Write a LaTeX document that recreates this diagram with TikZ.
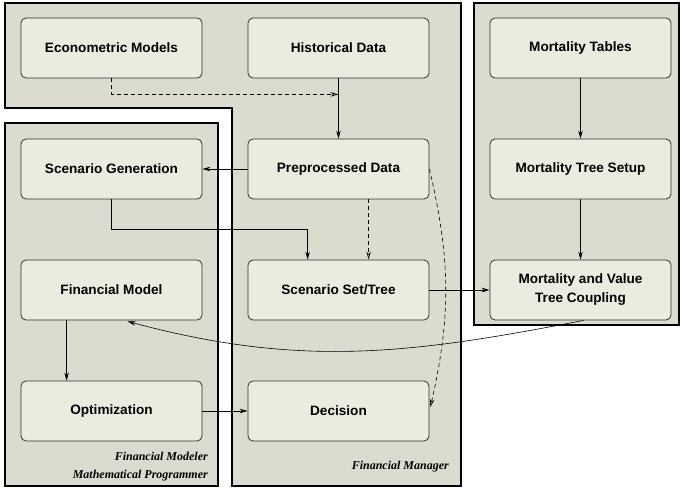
\documentclass[tikz,border=0pt]{standalone}
\usepackage{fontspec}
\setmainfont{Liberation Serif}
\setsansfont{Liberation Sans}
\usetikzlibrary{arrows.meta,calc}

\definecolor{areafill}{HTML}{DCDBD0}
\definecolor{boxfill}{HTML}{ECEBDF}
\definecolor{boxline}{HTML}{303030}

\tikzset{
  area/.style={draw=black, line width=1.9pt, fill=areafill},
  task/.style={draw=boxline, line width=0.8pt, fill=boxfill, rounded corners=5pt,
    minimum width=181pt, minimum height=60pt, inner sep=0pt, align=center,
    font=\sffamily\bfseries\fontsize{13.6}{19}\selectfont},
  flow/.style={line width=0.6pt, -{Stealth[length=8pt,width=4.5pt]}},
  hint/.style={line width=0.6pt, dash pattern=on 4pt off 3pt,
    -{Stealth[open,length=8pt,width=4.5pt]}},
  role/.style={font=\rmfamily\bfseries\itshape\fontsize{12}{14}\selectfont, inner sep=0pt}
}

\begin{document}
\begin{tikzpicture}[x=1pt, y=-1pt]
  \useasboundingbox (0,0) rectangle (681,488);

  % responsibility areas
  \draw[area] (5,3) -- (461,3) -- (461,486) -- (232,486) -- (232,108) -- (5,108) -- cycle;
  \draw[area] (474,3) rectangle (679,325);
  \draw[area] (5,123) rectangle (218,486);

  % process steps
  \node[task] (em)  at (111.5,48)  {Econometric Models};
  \node[task] (hd)  at (338.5,48)  {Historical Data};
  \node[task] (sg)  at (111.5,169) {Scenario Generation};
  \node[task] (pd)  at (338.5,169) {Preprocessed Data};
  \node[task] (fm)  at (111.5,290) {Financial Model};
  \node[task] (sst) at (338.5,290) {Scenario Set/Tree};
  \node[task] (opt) at (111.5,411) {Optimization};
  \node[task] (dec) at (338.5,411) {Decision};
  \node[task] (mt)  at (580.5,48)  {Mortality Tables};
  \node[task] (mts) at (580.5,169) {Mortality Tree Setup};
  \node[task] (mvc) at (580.5,290) {Mortality and Value\\Tree Coupling};

  % role captions
  \node[role, anchor=base east] (r1) at (208,460) {Financial Modeler};
  \node[role, anchor=base east] (r2) at (208,478) {Mathematical Programmer};
  \node[role, anchor=base east] (r3) at (449,469) {Financial Manager};

  % helper points
  \coordinate (join) at ($(hd.south)+(0,16)$);
  \coordinate (sgturn) at ($(sg.south)+(0,30)$);
  \coordinate (sstin) at ($(sst.north west)+(60,0)$);
  \coordinate (pdout) at ($(pd.south west)+(121,0)$);
  \coordinate (sstin2) at ($(sst.north west)+(121,0)$);
  \coordinate (fmout) at ($(fm.south west)+(46,0)$);
  \coordinate (optin) at ($(opt.north west)+(46,0)$);
  \coordinate (fmin) at ($(fm.south west)+(107,1)$);
  \coordinate (mvcout) at ($(mvc.south west)+(94,0)$);
  \coordinate (decin) at ($(dec.east)+(1,-4)$);

  % connectors
  \draw[hint] (em.south) |- (join);
  \draw[flow] (hd.south) -- (pd.north);
  \draw[flow] (pd.west) -- (sg.east);
  \draw[flow] (sg.south) -- (sgturn) -| (sstin);
  \draw[hint] (pdout) -- (sstin2);
  \draw[hint] (pd.east) to[bend left=13] (decin);
  \draw[flow] (sst.east) -- (mvc.west);
  \draw[flow] (mt.south) -- (mts.north);
  \draw[flow] (mts.south) -- (mvc.north);
  \draw[flow] (mvcout) to[out=191, in=-15] (fmin);
  \draw[flow] (fmout) -- (optin);
  \draw[flow] (opt.east) -- (dec.west);
\end{tikzpicture}
\end{document}
